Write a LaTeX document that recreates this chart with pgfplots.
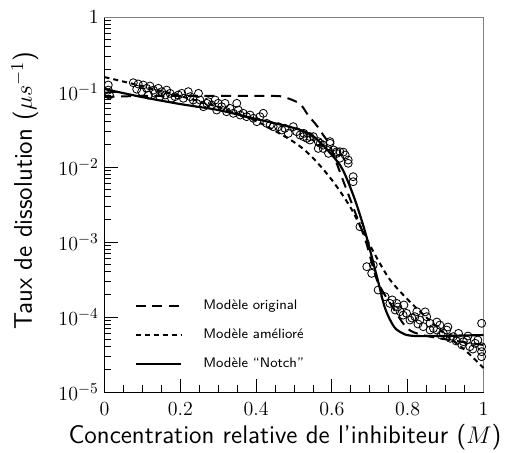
\documentclass[border=0pt]{standalone}
\usepackage{pgfplots}
\pgfplotsset{compat=1.18}
\begin{document}
\begin{tikzpicture}
\path[use as bounding box] (-62.7pt,-36pt) rectangle (244.5pt,235.2pt);
\begin{axis}[
  scale only axis, width=227.4pt, height=225pt,
  at={(0,0)}, anchor=south west,
  xmin=0, xmax=1, ymin=1e-5, ymax=1,
  ymode=log,
  axis lines=left, axis line style={-, line width=0.6pt},
  tick align=inside,
  xtick={0,0.2,0.4,0.6,0.8,1},
  xticklabels={$0$,$0.2$,$0.4$,$0.6$,$0.8$,$1$},
  minor x tick num=3,
  ytick={1e-5,1e-4,1e-3,1e-2,1e-1,1},
  yticklabels={$10^{-5}$,$10^{-4}$,$10^{-3}$,$10^{-2}$,$10^{-1}$,$1$},
  major tick length=8pt, minor tick length=4pt,
  tick style={black, line width=0.5pt},
  tick label style={font=\fontsize{12.5}{14}\selectfont},
  xticklabel style={yshift=-3pt},
  xlabel={Concentration relative de l'inhibiteur ($M$)},
  ylabel={Taux de dissolution ($\mu s^{-1}$)},
  xlabel style={at={(axis description cs:0.476,-0.12)}, anchor=center,
    font=\sffamily\fontsize{15.3}{17}\selectfont},
  ylabel style={at={(axis description cs:-0.21,0.537)}, anchor=center, rotate=0,
    font=\sffamily\fontsize{15.3}{17}\selectfont},
  clip=false,
  legend style={draw=none, fill=none, at={(rel axis cs:0.065,0.263)}, anchor=north west,
    font=\sffamily\fontsize{8.3}{10}\selectfont, row sep=6pt,
    /tikz/every odd column/.append style={column sep=11pt}},
  legend cell align=left,
  legend image code/.code={\draw[#1] (0cm,0cm) -- (0.95cm,0cm);},
]
\draw[gray, line width=0.6pt] (rel axis cs:0,1) -- (rel axis cs:1,1) -- (rel axis cs:1,0);

\addplot[black, line width=1.2pt, dash pattern=on 6pt off 4pt, smooth] coordinates {
(0,0.0857) (0.099,0.0885) (0.30,0.0885) (0.45,0.0885) (0.4815,0.0832) (0.516,0.0692)
(0.537,0.0493) (0.561,0.0352) (0.577,0.0267) (0.595,0.01905) (0.632,6.12e-3)
(0.661,2.51e-3) (0.69,1.0e-3) (0.719,3.11e-4) (0.753,1.54e-4) (0.798,7.13e-5)
(0.84,5.75e-5) (0.912,4.93e-5) (1.0,4.24e-5)
};
\addlegendentry{Modèle original}

\addplot[black, line width=1.2pt, dash pattern=on 3pt off 2.4pt, smooth] coordinates {
(0,0.158) (0.099,0.120) (0.199,0.0885) (0.30,0.0631) (0.40,0.0410) (0.50,0.0215)
(0.55,0.0132) (0.60,6.71e-3) (0.65,2.84e-3) (0.70,9.12e-4) (0.75,3.31e-4)
(0.801,1.69e-4) (0.851,9.70e-5) (0.901,5.75e-5) (0.951,3.63e-5) (1.0,2.09e-5)
};
\addlegendentry{Modèle amélioré}

\addplot[black, line width=1.3pt, smooth] coordinates {
(0,0.1096) (0.099,0.0857) (0.199,0.0692) (0.30,0.0575) (0.40,0.0437) (0.50,0.0331)
(0.55,0.0259) (0.60,0.01445) (0.629,9.12e-3) (0.661,3.63e-3) (0.69,1.24e-3)
(0.721,3.11e-4) (0.74,1.32e-4) (0.761,7.82e-5) (0.78,6.31e-5) (0.822,5.58e-5)
(1.0,5.75e-5)
};
\addlegendentry{Modèle ``Notch''}

\addplot[only marks, mark=o, mark size=2.4pt, mark options={black, line width=0.5pt, fill=white}, forget plot] coordinates {
(0.010,0.124) (0.010,0.106) (0.013,0.0912) (0.076,0.133) (0.089,0.128) (0.102,0.124)
(0.085,0.109) (0.098,0.101) (0.111,0.112) (0.12,0.120) (0.129,0.106) (0.116,0.0912)
(0.133,0.0959) (0.142,0.112) (0.151,0.101) (0.146,0.0867) (0.160,0.0912) (0.164,0.106)
(0.173,0.0959) (0.177,0.0824) (0.186,0.0867) (0.195,0.0912) (0.204,0.0959) (0.208,0.0824)
(0.221,0.101) (0.226,0.0867) (0.234,0.0782) (0.248,0.0959) (0.243,0.0706) (0.252,0.0782)
(0.261,0.0637) (0.270,0.0706) (0.274,0.0743) (0.283,0.0671) (0.292,0.0782) (0.296,0.0575)
(0.300,0.0706) (0.309,0.0637) (0.318,0.0706) (0.322,0.0547) (0.331,0.0605) (0.340,0.0520)
(0.349,0.0706) (0.353,0.0575) (0.358,0.0493) (0.366,0.0520) (0.375,0.0469) (0.384,0.0493)
(0.393,0.0446) (0.402,0.0402) (0.410,0.0469) (0.419,0.0520) (0.428,0.0382) (0.437,0.0363)
(0.445,0.0345) (0.459,0.0345) (0.468,0.0311) (0.476,0.0328) (0.485,0.0281) (0.498,0.0345)
(0.507,0.0296) (0.516,0.0267) (0.525,0.0254) (0.534,0.0241) (0.542,0.0229) (0.551,0.0254)
(0.564,0.0177) (0.569,0.0207) (0.577,0.0196) (0.595,0.0218) (0.604,0.0169) (0.613,0.0152)
(0.621,0.0160) (0.635,0.01445) (0.643,0.0124) (0.526,0.0281) (0.542,0.0254) (0.564,0.0218)
(0.577,0.0177) (0.595,0.0207) (0.591,0.0152) (0.613,0.0160) (0.621,0.0131) (0.630,0.0158)
(0.643,0.0112) (0.656,7.43e-3) (0.656,6.37e-3) (0.674,1.60e-3) (0.692,4.69e-4) (0.709,4.93e-4)
(0.705,3.82e-4) (0.722,2.29e-4) (0.740,1.87e-4) (0.753,1.52e-4) (0.771,1.52e-4) (0.767,1.24e-4)
(0.780,1.18e-4) (0.788,1.06e-4) (0.797,1.12e-4) (0.806,9.12e-5) (0.824,1.18e-4) (0.819,1.01e-4)
(0.832,9.12e-5) (0.841,7.43e-5) (0.850,1.01e-4) (0.859,8.24e-5) (0.868,7.06e-5) (0.877,6.71e-5)
(0.885,7.82e-5) (0.894,6.05e-5) (0.903,6.71e-5) (0.912,5.20e-5) (0.920,5.47e-5) (0.934,6.05e-5)
(0.947,4.69e-5) (0.956,4.93e-5) (0.964,4.02e-5) (0.978,4.46e-5) (0.995,8.24e-5) (0.995,4.02e-5)
(0.995,3.45e-5) (0.995,2.96e-5) (0.759,1.69e-4) (0.774,1.36e-4) (0.790,1.445e-4) (0.811,9.70e-5)
(0.827,8.07e-5) (0.846,1.17e-4) (0.859,6.71e-5) (0.877,8.57e-5) (0.888,5.75e-5) (0.906,7.36e-5)
(0.928,4.79e-5) (0.943,4.24e-5) (0.959,5.58e-5) (0.972,3.74e-5) (0.985,4.93e-5)
};
\end{axis}
\end{tikzpicture}
\end{document}
